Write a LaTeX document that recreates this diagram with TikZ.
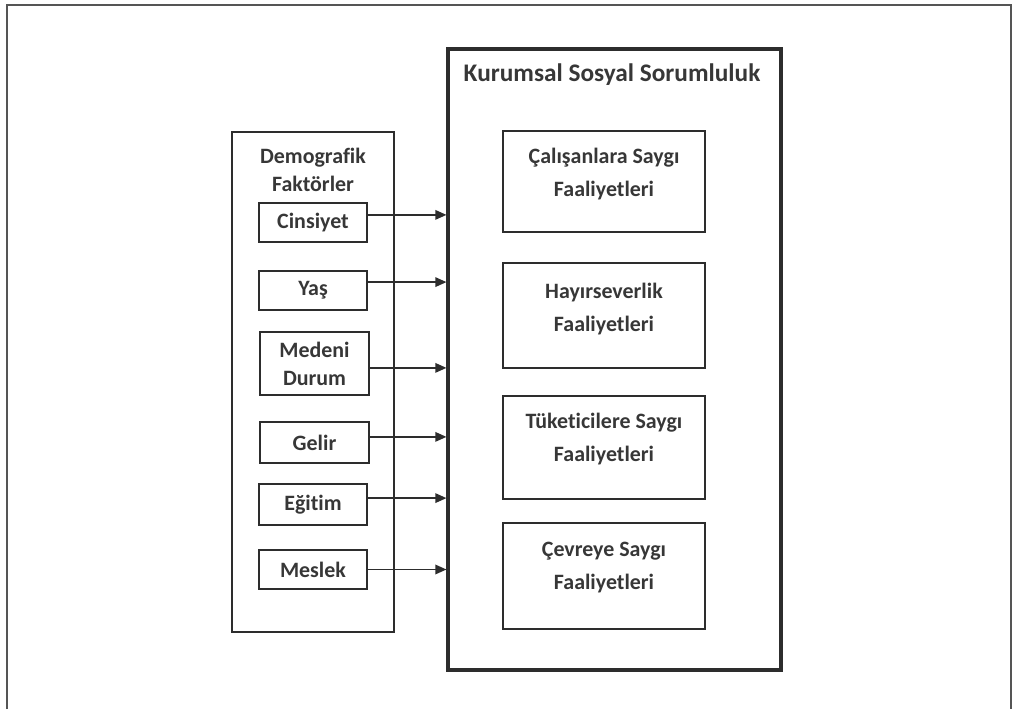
\documentclass[tikz,border=0pt]{standalone}
\usepackage{fontspec}
\setmainfont{Carlito}[Ligatures=NoCommon]
\usepackage{tikz}
\usetikzlibrary{arrows.meta, positioning}
\definecolor{lineclr}{RGB}{45, 45, 45}
\definecolor{txtclr}{RGB}{55, 55, 55}
\definecolor{frameclr}{RGB}{85, 85, 85}

\begin{document}
\begin{tikzpicture}[
    group/.style={rectangle, draw=lineclr, line width=1.4pt, minimum width=4.05cm, minimum height=12.5cm},
    mainbox/.style={rectangle, draw=lineclr, line width=2.2pt, minimum width=8.325cm, minimum height=15.525cm},
    factor/.style={rectangle, draw=lineclr, line width=1.4pt, minimum width=2.7cm, minimum height=0.975cm, align=center, inner sep=0pt, text=txtclr, font=\bfseries\fontsize{15.6}{20}\selectfont},
    activity/.style={rectangle, draw=lineclr, line width=2.1pt, minimum width=5.05cm},
    acttext/.style={align=center, text=txtclr, font=\bfseries\fontsize{15.6}{23.5}\selectfont},
    heading/.style={align=center, text=txtclr, font=\bfseries\fontsize{15.6}{20}\selectfont},
    arrow/.style={line width=1.1pt, draw=lineclr, -{Triangle[length=2.8mm, width=2.4mm]}}
]
    \useasboundingbox (0,0) rectangle (25.325,17.725);
    % outer frame
    \draw[frameclr, line width=1.4pt] (0.175,0) -- (0.175,17.6) -- (25.275,17.6) -- (25.275,0);

    \node[group] (demo) at (7.825, 8.175) {};
    \node[heading] (demotitle) at (7.825, 13.475) {Demografik\\Faktörler};
    \node[factor] (cins) at (7.825, 12.1625) {Cinsiyet};
    \node[factor] (yas) at (7.825, 10.4625) {Yaş};
    \node[factor, minimum width=2.725cm, minimum height=1.575cm] (medeni) at (7.8625, 8.6375) {Medeni\\Durum};
    \node[factor, minimum width=2.725cm, minimum height=1.025cm] (gelir) at (7.8625, 6.6625) {Gelir};
    \node[factor, minimum height=1.025cm] (egitim) at (7.825, 5.1125) {Eğitim};
    \node[factor] (meslek) at (7.825, 3.4875) {Meslek};

    \node[mainbox] (ksr) at (15.3625, 8.7375) {};
    \node[heading, font=\bfseries\fontsize{18}{22}\selectfont] (ksrtitle) at (15.3, 15.85) {Kurumsal Sosyal Sorumluluk};

    \node[activity, minimum height=2.525cm] (calisan) at (15.1, 13.1875) {};
    \node[acttext] at ([yshift=0.19cm]calisan.center) {Çalışanlara Saygı\\Faaliyetleri};
    \node[activity, minimum height=2.625cm] (hayir) at (15.1, 9.8375) {};
    \node[acttext] at ([yshift=0.16cm]hayir.center) {Hayırseverlik\\Faaliyetleri};
    \node[activity, minimum height=2.575cm] (tuketici) at (15.1, 6.5375) {};
    \node[acttext] at ([yshift=0.2cm]tuketici.center) {Tüketicilere Saygı\\Faaliyetleri};
    \node[activity, minimum height=2.65cm] (cevre) at (15.1, 3.325) {};
    \node[acttext] at ([yshift=0.2cm]cevre.center) {Çevreye Saygı\\Faaliyetleri};

    \draw[arrow] ([yshift=0.19cm]cins.east) -- ([yshift=0.19cm]cins.east -| ksr.west);
    \draw[arrow] ([yshift=0.21cm]yas.east) -- ([yshift=0.21cm]yas.east -| ksr.west);
    \draw[arrow] ([yshift=-0.11cm]medeni.east) -- ([yshift=-0.11cm]medeni.east -| ksr.west);
    \draw[arrow] ([yshift=0.14cm]gelir.east) -- ([yshift=0.14cm]gelir.east -| ksr.west);
    \draw[arrow] ([yshift=0.16cm]egitim.east) -- ([yshift=0.16cm]egitim.east -| ksr.west);
    \draw[arrow] (meslek.east) -- (meslek.east -| ksr.west);
\end{tikzpicture}
\end{document}
